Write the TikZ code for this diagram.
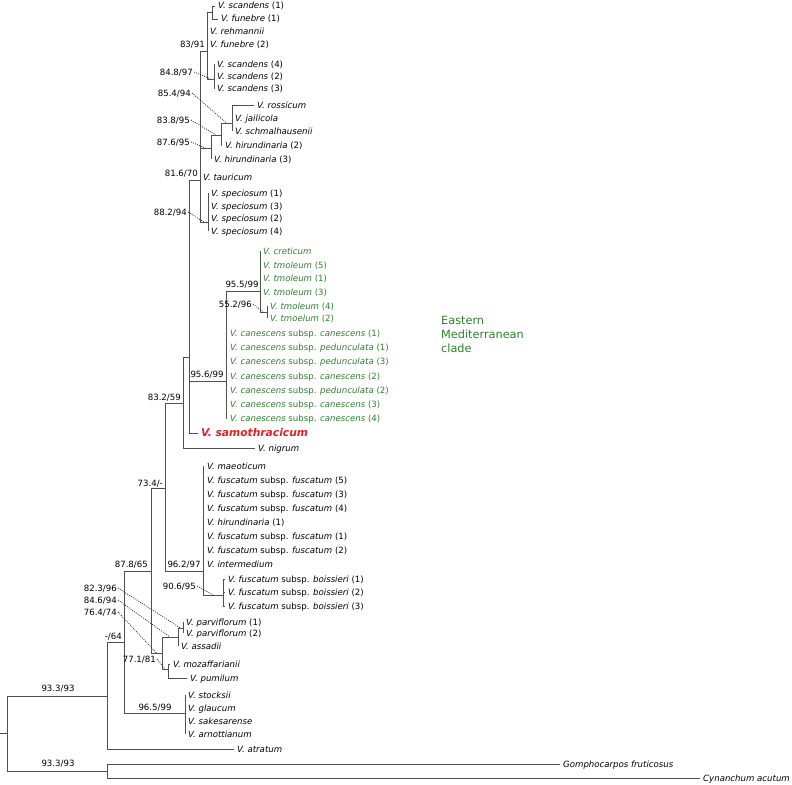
\documentclass[tikz,border=0pt]{standalone}
\usepackage{fontspec}
\setmainfont{DejaVu Sans}[ItalicFont={DejaVu Sans Oblique},BoldFont={DejaVu Sans Bold},BoldItalicFont={DejaVu Sans Bold Oblique}]
\usetikzlibrary{calc}
\definecolor{cladegreen}{RGB}{46,128,46}
\definecolor{samored}{RGB}{225,30,35}
\definecolor{linegray}{RGB}{80,80,80}
\newcommand\Vi[1]{\textit{V. #1}}
\begin{document}
\begin{tikzpicture}[x=1pt,y=-1pt,
  branch/.style={draw=linegray,line width=0.85pt},
  tip/.style={anchor=west,inner xsep=3pt,inner ysep=0pt,text height=7pt,text depth=1pt,font=\fontsize{8.6}{10}\selectfont},
  gtip/.style={tip,text=cladegreen},
  blab/.style={inner sep=0pt,text height=7pt,text depth=1pt,font=\fontsize{8.6}{10}\selectfont},
  dlink/.style={draw=black!85,line width=0.8pt,dash pattern=on 0.9pt off 1.3pt}]
\useasboundingbox (0,0) rectangle (792,784);
% internal nodes
\coordinate (n816) at (200,180);
\coordinate (n83) at (207,51);
\coordinate (nsf) at (212,12);
\coordinate (n848) at (214,79);
\coordinate (n876) at (211,148);
\coordinate (n838) at (221,135);
\coordinate (n854) at (232,123);
\coordinate (n882) at (208,222);
\coordinate (n189) at (189,357);
\coordinate (n956) at (226,381);
\coordinate (n955) at (260,291);
\coordinate (n552) at (267,312);
\coordinate (n183) at (183,403);
\coordinate (n165) at (165,488);
\coordinate (n962) at (203,571);
\coordinate (n906) at (223,595);
\coordinate (n151) at (151,571);
\coordinate (n764) at (162,653);
\coordinate (n846) at (178,637);
\coordinate (n823) at (183,628);
\coordinate (n771) at (168,669);
\coordinate (n124) at (124,642);
\coordinate (n965) at (185,713);
\coordinate (n107a) at (107,696);
\coordinate (root) at (7,733);
\coordinate (rootstub) at (0,733);
\coordinate (n107b) at (107,771);
% tips
\node[tip] (sc1) at (215,6) {\Vi{scandens} (1)};
\node[tip] (fun1) at (218,19) {\Vi{funebre} (1)};
\node[tip] (rehm) at (207,32) {\Vi{rehmannii}};
\node[tip] (fun2) at (207,45) {\Vi{funebre} (2)};
\node[tip] (sc4) at (214,64) {\Vi{scandens} (4)};
\node[tip] (sc2) at (214,76) {\Vi{scandens} (2)};
\node[tip] (sc3) at (214,89) {\Vi{scandens} (3)};
\node[tip] (ros) at (254,105) {\Vi{rossicum}};
\node[tip] (jai) at (232,118) {\Vi{jailicola}};
\node[tip] (sch) at (232,131) {\Vi{schmalhausenii}};
\node[tip] (hir2) at (222,145) {\Vi{hirundinaria} (2)};
\node[tip] (hir3) at (211,159) {\Vi{hirundinaria} (3)};
\node[tip] (tau) at (200,177) {\Vi{tauricum}};
\node[tip] (sp1) at (208,193) {\Vi{speciosum} (1)};
\node[tip] (sp3) at (208,206) {\Vi{speciosum} (3)};
\node[tip] (sp2) at (208,218) {\Vi{speciosum} (2)};
\node[tip] (sp4) at (208,231) {\Vi{speciosum} (4)};
\node[gtip] (cre) at (260,251) {\Vi{creticum}};
\node[gtip] (tm5) at (260,265) {\Vi{tmoleum} (5)};
\node[gtip] (tm1) at (260,278) {\Vi{tmoleum} (1)};
\node[gtip] (tm3) at (260,292) {\Vi{tmoleum} (3)};
\node[gtip] (tm4) at (267,306) {\Vi{tmoleum} (4)};
\node[gtip] (tm2) at (267,318) {\Vi{tmoelum} (2)};
\node[gtip] (ca1) at (227,333) {\Vi{canescens} subsp. \textit{canescens} (1)};
\node[gtip] (pe1) at (227,347) {\Vi{canescens} subsp. \textit{pedunculata} (1)};
\node[gtip] (pe3) at (227,361) {\Vi{canescens} subsp. \textit{pedunculata} (3)};
\node[gtip] (ca2) at (227,376) {\Vi{canescens} subsp. \textit{canescens} (2)};
\node[gtip] (pe2) at (227,390) {\Vi{canescens} subsp. \textit{pedunculata} (2)};
\node[gtip] (ca3) at (227,404) {\Vi{canescens} subsp. \textit{canescens} (3)};
\node[gtip] (ca4) at (227,418) {\Vi{canescens} subsp. \textit{canescens} (4)};
\node[tip,text=samored,font=\fontsize{10.7}{12}\selectfont\bfseries\itshape] (samo) at (198,433) {V. samothracicum};
\node[tip] (nig) at (255,448) {\Vi{nigrum}};
\node[tip] (mae) at (204,466) {\Vi{maeoticum}};
\node[tip] (fu5) at (204,480) {\Vi{fuscatum} subsp. \textit{fuscatum} (5)};
\node[tip] (fu3) at (204,494) {\Vi{fuscatum} subsp. \textit{fuscatum} (3)};
\node[tip] (fu4) at (204,508) {\Vi{fuscatum} subsp. \textit{fuscatum} (4)};
\node[tip] (hir1) at (204,522) {\Vi{hirundinaria} (1)};
\node[tip] (fu1) at (204,536) {\Vi{fuscatum} subsp. \textit{fuscatum} (1)};
\node[tip] (fu2) at (204,550) {\Vi{fuscatum} subsp. \textit{fuscatum} (2)};
\node[tip] (inter) at (204,564) {\Vi{intermedium}};
\node[tip] (bo1) at (225,579) {\Vi{fuscatum} subsp. \textit{boissieri} (1)};
\node[tip] (bo2) at (225,592) {\Vi{fuscatum} subsp. \textit{boissieri} (2)};
\node[tip] (bo3) at (225,606) {\Vi{fuscatum} subsp. \textit{boissieri} (3)};
\node[tip] (pa1) at (183,622) {\Vi{parviflorum} (1)};
\node[tip] (pa2) at (183,633) {\Vi{parviflorum} (2)};
\node[tip] (ass) at (178,646) {\Vi{assadii}};
\node[tip] (moz) at (170,664) {\Vi{mozaffarianii}};
\node[tip] (pum) at (187,678) {\Vi{pumilum}};
\node[tip] (sto) at (185,695) {\Vi{stocksii}};
\node[tip] (gla) at (185,708) {\Vi{glaucum}};
\node[tip] (sak) at (185,721) {\Vi{sakesarense}};
\node[tip] (arn) at (185,734) {\Vi{arnottianum}};
\node[tip] (atr) at (234,749) {\Vi{atratum}};
\node[tip] (gom) at (560,764) {\textit{Gomphocarpos fruticosus}};
\node[tip] (cyn) at (700,778) {\textit{Cynanchum acutum}};
% branches
\foreach \p/\c in {n816/n83,n816/n876,n816/tau,n816/n882,
  n83/nsf,n83/rehm,n83/fun2,n83/n848,nsf/sc1,nsf/fun1,
  n848/sc4,n848/sc2,n848/sc3,n876/n838,n876/hir3,n838/n854,n838/hir2,
  n854/ros,n854/jai,n854/sch,n882/sp1,n882/sp3,n882/sp2,n882/sp4,
  n189/n816,n189/n956,n189/samo,n956/n955,
  n956/ca1,n956/pe1,n956/pe3,n956/ca2,n956/pe2,n956/ca3,n956/ca4,
  n955/cre,n955/tm5,n955/tm1,n955/tm3,n955/n552,n552/tm4,n552/tm2,
  n183/n189,n183/nig,n165/n183,n165/n962,
  n962/mae,n962/fu5,n962/fu3,n962/fu4,n962/hir1,n962/fu1,n962/fu2,n962/inter,n962/n906,
  n906/bo1,n906/bo2,n906/bo3,n151/n165,n151/n764,n764/n846,n764/n771,
  n846/n823,n846/ass,n823/pa1,n823/pa2,n771/moz,n771/pum,
  n124/n151,n124/n965,n965/sto,n965/gla,n965/sak,n965/arn,
  n107a/n124,n107a/atr,root/n107a,root/n107b,n107b/gom,n107b/cyn}
  \draw[branch] (\p) |- (\c.west);
\draw[branch] (rootstub) -- (root);
% support labels
\node[blab,anchor=east] (l83) at (205,45) {83/91};
\node[blab,anchor=east] (l848) at (193,72) {84.8/97};
\node[blab,anchor=east] (l854) at (191,93) {85.4/94};
\node[blab,anchor=east] (l838) at (190,120) {83.8/95};
\node[blab,anchor=east] (l876) at (190,142) {87.6/95};
\node[blab,anchor=east] (l816) at (198,173) {81.6/70};
\node[blab,anchor=east] (l882) at (187,212) {88.2/94};
\node[blab] (l955) at (242,284) {95.5/99};
\node[blab,anchor=east] (l552) at (252,304) {55.2/96};
\node[blab] (l956) at (207,374) {95.6/99};
\node[blab,anchor=east] (l832) at (181,397) {83.2/59};
\node[blab,anchor=east] (l734) at (163,483) {73.4/-};
\node[blab] (l962) at (184,564) {96.2/97};
\node[blab,anchor=east] (l878) at (148,564) {87.8/65};
\node[blab,anchor=east] (l906) at (196,586) {90.6/95};
\node[blab,anchor=east] (l823) at (117,588) {82.3/96};
\node[blab,anchor=east] (l846) at (117,600) {84.6/94};
\node[blab,anchor=east] (l764) at (117,612) {76.4/74};
\node[blab,anchor=east] (l64) at (122,636) {-/64};
\node[blab,anchor=east] (l771) at (156,659) {77.1/81};
\node[blab] (l933a) at (58,688) {93.3/93};
\node[blab] (l965) at (155,707) {96.5/99};
\node[blab] (l933b) at (58,763) {93.3/93};
% dotted leaders
\foreach \l/\p/\c in {l848/n83/n848,l854/n838/n854,l838/n876/n838,l876/n816/n876,
  l882/n816/n882,l552/n955/n552,l906/n962/n906,l823/n846/n823,
  l846/n764/n846,l764/n151/n764,l771/n764/n771}
  \draw[dlink] ([xshift=1pt]\l.east) -- ($(\p |- \c)!0.5!(\c)$);
% clade label
\node[anchor=west,align=left,inner sep=0pt,text=cladegreen,font=\fontsize{11.3}{14}\selectfont] (emc) at (441,334) {Eastern\\Mediterranean\\clade};
\end{tikzpicture}
\end{document}
